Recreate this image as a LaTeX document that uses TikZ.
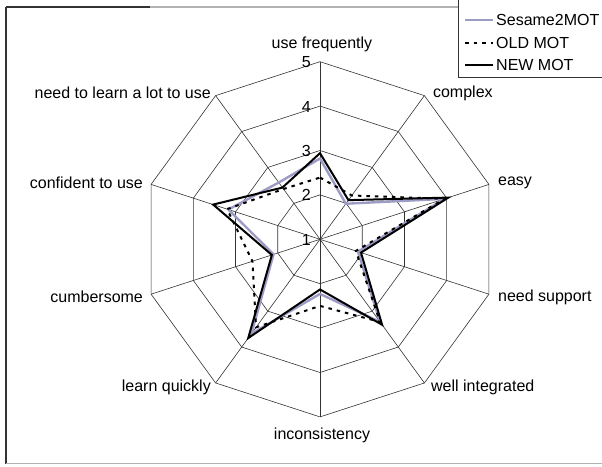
\documentclass[tikz,border=0pt]{standalone}
\usepackage{fontspec}
\setmainfont{Liberation Sans}
\usetikzlibrary{calc}
\definecolor{lavgray}{RGB}{156,156,198}
\begin{document}
\begin{tikzpicture}[x=1pt,y=1pt,
  gridline/.style={draw=black!80, line width=0.6pt},
  sesame/.style={draw=lavgray, line width=2.4pt, line join=round},
  oldmot/.style={draw=black, line width=2pt, dash pattern=on 3.5pt off 5pt},
  newmot/.style={draw=black, line width=2pt, line join=miter},
  lbl/.style={font=\fontsize{16}{18}\selectfont, inner sep=0pt},
  framedark/.style={draw=black!80, line width=1.6pt},
  framelight/.style={draw=black!30, line width=1.2pt}]
\useasboundingbox (0,0) rectangle (602,466);
\clip (0,0) rectangle (602,466);
\fill[white] (0,0) rectangle (602,466);

% chart frame
\draw[framedark] (6,2.5) -- (6,459);
\draw[framedark] (6,459) -- (150,459);
\draw[framelight] (150,459) -- (458,459);
\draw[framelight] (6,2.5) -- (602,2.5);

\begin{scope}[shift={(320,226.7)}]
  \coordinate (O) at (0,0);
  % rings for the values 2..5
  \foreach \r in {1,...,4}{
    \draw[gridline] (90:{\r*44.4})
      \foreach \k in {1,...,9}{ -- ({90-36*\k}:{\r*44.4}) } -- cycle;
  }
  % spokes
  \foreach \k in {0,...,9}{
    \coordinate (v\k) at ({90-36*\k}:177.6);
    \draw[gridline] (O) -- (v\k);
  }
  % scale labels
  \foreach \n in {0,...,4}{
    \pgfmathtruncatemacro{\lv}{\n+1}
    \node[lbl, anchor=east] (tick\lv) at (-9,{\n*44.4-0.5}) {\lv};
  }

  % Sesame2MOT
  \draw[sesame]
    (90:{(2.82-1)*44.4}) -- (54:{(1.99-1)*44.4}) -- (18:{(3.95-1)*44.4}) --
    (-18:{(1.90-1)*44.4}) -- (-54:{(3.30-1)*44.4}) -- (-90:{(2.23-1)*44.4}) --
    (-126:{(3.63-1)*44.4}) -- (-162:{(2.10-1)*44.4}) -- (162:{(3.17-1)*44.4}) --
    (126:{(2.58-1)*44.4}) -- cycle;
  % OLD MOT
  \draw[oldmot]
    (90:{(2.39-1)*44.4}) -- (54:{(2.22-1)*44.4}) -- (18:{(3.95-1)*44.4}) --
    (-18:{(1.85-1)*44.4}) -- (-54:{(3.30-1)*44.4}) -- (-90:{(2.50-1)*44.4}) --
    (-126:{(3.45-1)*44.4}) -- (-162:{(2.60-1)*44.4}) -- (162:{(3.20-1)*44.4}) --
    (126:{(2.40-1)*44.4}) -- cycle;
  % NEW MOT
  \draw[newmot]
    (90:{(2.94-1)*44.4}) -- (54:{(2.09-1)*44.4}) -- (18:{(4.04-1)*44.4}) --
    (-18:{(1.97-1)*44.4}) -- (-54:{(3.38-1)*44.4}) -- (-90:{(2.13-1)*44.4}) --
    (-126:{(3.75-1)*44.4}) -- (-162:{(2.14-1)*44.4}) -- (162:{(3.53-1)*44.4}) --
    (126:{(2.44-1)*44.4}) -- cycle;
\end{scope}

% category labels
\node[lbl, anchor=center] (l0) at ($(v0)+(2,17.5)$) {use frequently};
\node[lbl, anchor=west]   (l1) at ($(v1)+(8.5,2.5)$) {complex};
\node[lbl, anchor=west]   (l2) at ($(v2)+(9,1.4)$) {easy};
\node[lbl, anchor=west]   (l3) at ($(v3)+(9,-2.8)$) {need support};
\node[lbl, anchor=west]   (l4) at ($(v4)+(6.6,-4)$) {well integrated};
\node[lbl, anchor=center] (l5) at ($(v5)+(2,-18)$) {inconsistency};
\node[lbl, anchor=east]   (l6) at ($(v6)+(-4.6,-4)$) {learn quickly};
\node[lbl, anchor=east]   (l7) at ($(v7)+(-8,-2.8)$) {cumbersome};
\node[lbl, anchor=east]   (l8) at ($(v8)+(-8,1.4)$) {confident to use};
\node[lbl, anchor=east]   (l9) at ($(v9)+(-4.6,2.6)$) {need to learn a lot to use};

% legend
\draw[draw=black!80, line width=0.7pt, fill=white] (458,389) rectangle (610,470);
\coordinate (s1a) at (465,446); \coordinate (s1b) at (493,446);
\coordinate (s2a) at (465,423); \coordinate (s2b) at (493,423);
\coordinate (s3a) at (465,401); \coordinate (s3b) at (493,401);
\draw[sesame] (s1a) -- (s1b);
\draw[oldmot] (s2a) -- (s2b);
\draw[newmot] (s3a) -- (s3b);
\node[lbl, anchor=west] (t1) at ($(s1b)+(3,0)$) {Sesame2MOT};
\node[lbl, anchor=west] (t2) at ($(s2b)+(3,0)$) {OLD MOT};
\node[lbl, anchor=west] (t3) at ($(s3b)+(3,0)$) {NEW MOT};
\end{tikzpicture}
\end{document}
